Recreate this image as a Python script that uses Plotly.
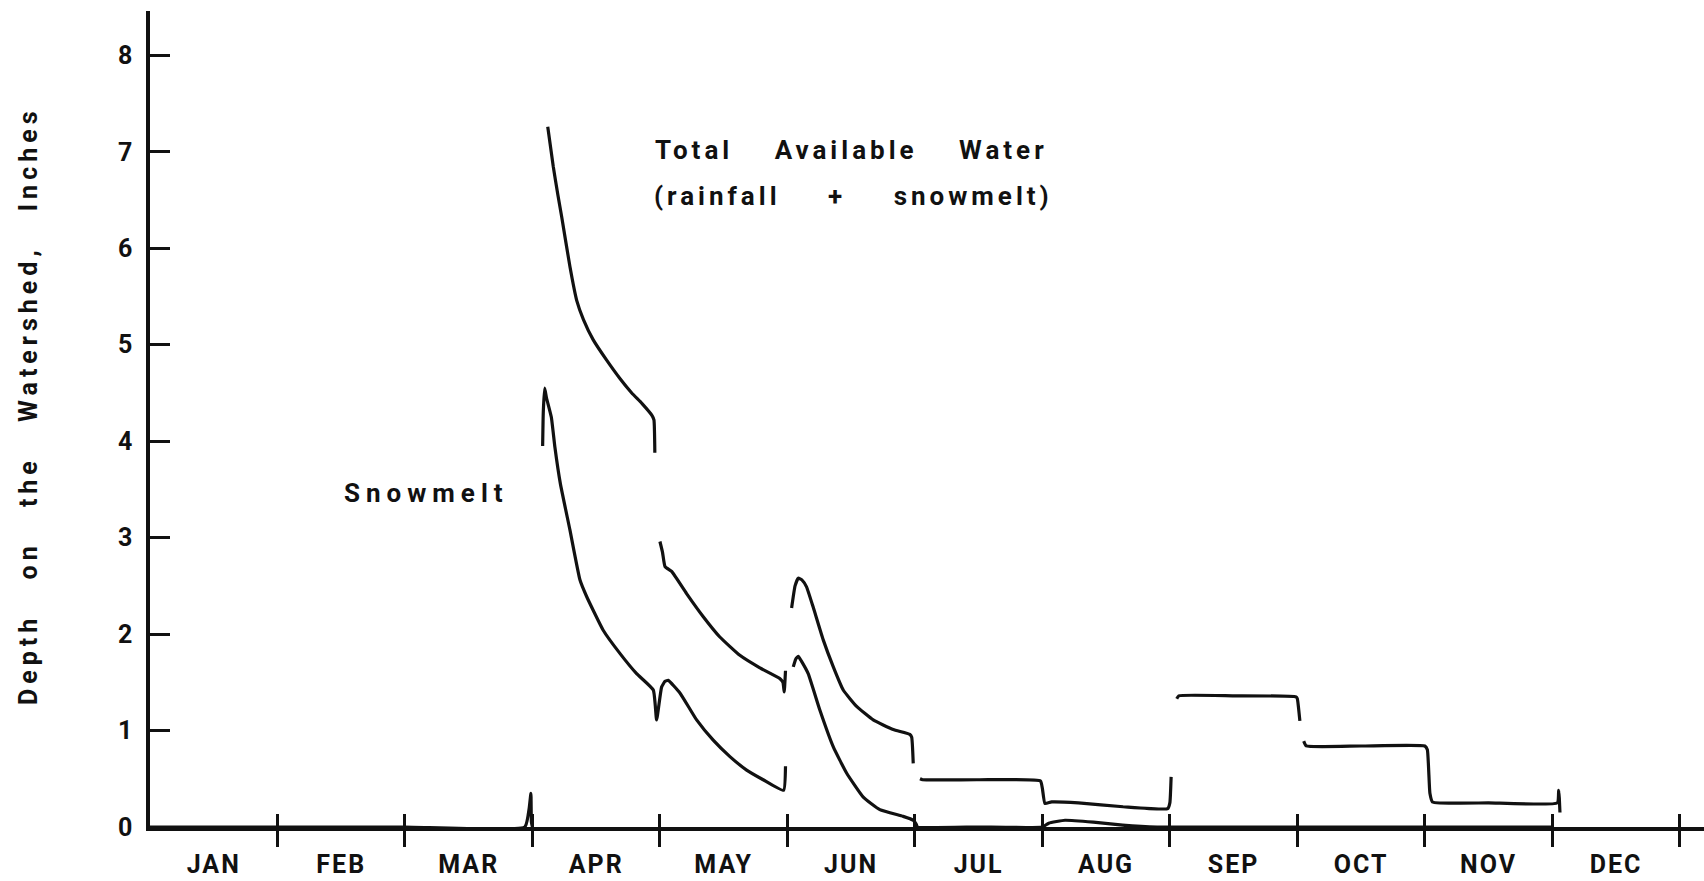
import plotly.graph_objects as go

# Calendar axis: time is measured in months from Jan 1 (0 = Jan 1, 12 = Dec 31)
months = ["JAN", "FEB", "MAR", "APR", "MAY", "JUN",
          "JUL", "AUG", "SEP", "OCT", "NOV", "DEC"]
month_edges = [1, 2, 3, 4, 5, 6, 7, 8, 9, 10, 11, 12]
month_centers = [0.5, 1.5, 2.5, 3.5, 4.5, 5.5, 6.5, 7.5, 8.5, 9.5, 10.5, 11.5]
depth_ticks = [0, 1, 2, 3, 4, 5, 6, 7, 8]
depth_labels = ["0", "1", "2", "3", "4", "5", "6", "7", "8"]

# Total available water (rainfall + snowmelt), inches; None lifts the pen
total_t = [3.12, 3.163, 3.20, 3.229, 3.294, 3.347, 3.40, 3.477, 3.582, 3.686,
           3.779, 3.86, 3.936, 3.953, 3.96, None,
           4.0, 4.02, 4.04, 4.092, 4.209, 4.34, 4.47, 4.627, 4.784, 4.94,
           4.965, 4.975, 4.985, None,
           5.033, 5.06, 5.085, 5.115, 5.15, 5.202, 5.281, 5.36, 5.438, 5.543,
           5.673, 5.83, 5.96, 5.975, 5.987, None,
           6.04, 6.06, 6.5, 6.985, 7.0, 7.02, 7.073, 7.283, 7.633, 7.983,
           8.0, 8.01, None,
           8.054, 8.07, 8.5, 8.99, 9.0, 9.02, None,
           9.05, 9.07, 9.5, 10.0, 10.02, 10.04, 10.06, 10.5, 11.04, 11.05,
           11.055, 11.06]
total_d = [7.26, 6.85, 6.55, 6.33, 5.81, 5.46, 5.26, 5.05, 4.84, 4.65,
           4.50, 4.39, 4.27, 4.22, 3.88, None,
           2.96, 2.85, 2.70, 2.65, 2.42, 2.18, 1.97, 1.78, 1.65, 1.54,
           1.50, 1.40, 1.62, None,
           2.27, 2.50, 2.58, 2.56, 2.49, 2.28, 1.94, 1.66, 1.42, 1.25,
           1.11, 1.01, 0.96, 0.93, 0.66, None,
           0.50, 0.49, 0.49, 0.477, 0.40, 0.245, 0.26, 0.25, 0.21, 0.19,
           0.25, 0.52, None,
           1.33, 1.36, 1.36, 1.35, 1.33, 1.10, None,
           0.89, 0.84, 0.84, 0.84, 0.80, 0.35, 0.26, 0.25, 0.25, 0.38,
           0.30, 0.15]

# Snowmelt, inches
snow_t = [0.0, 1.0, 2.0, 2.94, 2.975, 2.988, 2.992, 3.0, None,
          3.08, 3.085, 3.096, 3.11, 3.148, 3.176, 3.219, 3.294, 3.373, 3.425,
          3.555, 3.686, 3.817, 3.948, 3.974, 4.013, 4.04, 4.065, 4.157, 4.288,
          4.418, 4.549, 4.68, 4.81, 4.97, 4.985, None,
          5.046, 5.065, 5.085, 5.11, 5.163, 5.255, 5.36, 5.464, 5.595, 5.725,
          5.908, 5.987, 6.01, 6.02, 6.5, 7.0, 7.05, 7.178, 7.4, 7.63, 7.9,
          9.0, 11.0]
snow_d = [0.0, 0.0, 0.0, 0.0, 0.2, 0.35, 0.05, 0.0, None,
          3.95, 4.30, 4.55, 4.45, 4.25, 3.94, 3.56, 3.08, 2.56, 2.39,
          2.04, 1.80, 1.59, 1.42, 1.11, 1.45, 1.51, 1.52, 1.39, 1.11,
          0.90, 0.73, 0.59, 0.49, 0.38, 0.63, None,
          1.66, 1.74, 1.77, 1.72, 1.59, 1.21, 0.83, 0.56, 0.31, 0.18,
          0.11, 0.07, 0.03, 0.0, 0.0, 0.0, 0.04, 0.07, 0.05, 0.02, 0.0,
          0.0, 0.0]

X_RANGE = [0, 12.19]
Y_RANGE = [0, 8.46]
INK = "#111111"
FONT = "Roboto"


def spaced(text, letter, word=0):
    return (f'<span style="letter-spacing:{letter}px;word-spacing:{word}px">'
            f'{text}</span>')


fig = go.Figure()

fig.add_trace(go.Scatter(
    x=total_t, y=total_d, mode="lines", xaxis="x", yaxis="y",
    line=dict(color=INK, width=3.2, shape="spline", smoothing=0.4),
    connectgaps=False, showlegend=False, hoverinfo="skip"))

fig.add_trace(go.Scatter(
    x=snow_t, y=snow_d, mode="lines", xaxis="x2", yaxis="y",
    line=dict(color=INK, width=3.2, shape="spline", smoothing=0.4),
    connectgaps=False, showlegend=False, hoverinfo="skip"))

axis_font = dict(family=FONT, size=25, color=INK, weight="bold")

fig.update_layout(
    width=1704, height=881,
    margin=dict(l=150, r=0, t=11, b=54),
    paper_bgcolor="white", plot_bgcolor="white",
    font=dict(family=FONT, color=INK),
    xaxis=dict(
        range=X_RANGE, showgrid=False, zeroline=False,
        showline=True, linecolor=INK, linewidth=3.5,
        tickmode="array", tickvals=month_centers,
        ticktext=[spaced(m, 2) for m in months],
        ticks="", tickfont=axis_font, ticklabelstandoff=12,
        minor=dict(tickmode="array", tickvals=month_edges, ticks="outside",
                   ticklen=16, tickwidth=2.5, tickcolor=INK, showgrid=False),
    ),
    xaxis2=dict(
        range=X_RANGE, overlaying="x", anchor="y", side="bottom",
        showgrid=False, zeroline=False, showline=False,
        tickmode="array", tickvals=month_edges, ticks="inside",
        ticklen=13, tickwidth=2.5, tickcolor=INK, showticklabels=False,
    ),
    yaxis=dict(
        range=Y_RANGE, showgrid=False, zeroline=False,
        showline=True, linecolor=INK, linewidth=3.5,
        tickmode="array", tickvals=depth_ticks, ticktext=depth_labels,
        ticks="inside", ticklen=20, tickwidth=2.5, tickcolor=INK,
        tickfont=dict(family=FONT, size=25, color=INK, weight="bold"),
        ticklabelstandoff=9,
    ),
)

label_font = dict(family=FONT, size=26, color=INK, weight="bold")

fig.add_annotation(
    text=spaced("Total Available Water", 4, 31),
    x=5.506, y=7.02, xref="x", yref="y", showarrow=False,
    xanchor="center", yanchor="middle", font=label_font)
fig.add_annotation(
    text=spaced("(rainfall + snowmelt)", 4, 37),
    x=5.52, y=6.54, xref="x", yref="y", showarrow=False,
    xanchor="center", yanchor="middle", font=label_font)
fig.add_annotation(
    text=spaced("Snowmelt", 6),
    x=2.17, y=3.46, xref="x", yref="y", showarrow=False,
    xanchor="center", yanchor="middle", font=label_font)
fig.add_annotation(
    text=spaced("Depth on the Watershed, Inches", 5, 23),
    x=0, y=0.516, xref="paper", yref="paper", xshift=-121,
    showarrow=False, textangle=-90, xanchor="center", yanchor="middle",
    font=dict(family=FONT, size=25, color=INK, weight="bold"))

fig.write_html("out.html")
